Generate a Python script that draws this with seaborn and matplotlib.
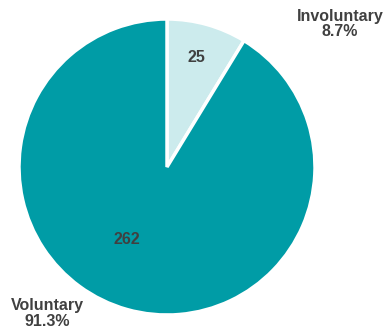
import matplotlib
matplotlib.use("Agg")
import matplotlib.pyplot as plt
import seaborn as sns

# data
categories = ["Involuntary", "Voluntary"]
counts = [25, 262]
pcts = ["8.7%", "91.3%"]
colors = ["#CCEBED", "#009CA6"]

sns.set_theme(style="white")
plt.rcParams['font.family'] = ['Liberation Sans', 'DejaVu Sans']
txt = "#404040"

fig = plt.figure(figsize=(3.87, 3.33), dpi=100)
ax = fig.add_axes([0, 0, 1, 1])
ax.pie(counts, colors=colors, startangle=90, counterclock=False, radius=1,
       wedgeprops=dict(edgecolor="white", linewidth=2.5))
ax.set_aspect("auto")
ax.set_xlim(-167 / 148, 220 / 148)
ax.set_ylim(-166 / 148, 167 / 148)
ax.axis("off")

# value labels inside slices
ax.text(0.20, 0.74, str(counts[0]), ha="center", va="center",
        fontsize=11.5, fontweight="bold", color=txt)
ax.text(-0.27, -0.49, str(counts[1]), ha="center", va="center",
        fontsize=11.5, fontweight="bold", color=txt)

# category labels outside
ax.text(1.17, 0.965, f"{categories[0]}\n{pcts[0]}", ha="center", va="center",
        fontsize=11.5, fontweight="bold", color=txt, linespacing=1.05)
ax.text(-0.81, -0.99, f"{categories[1]}\n{pcts[1]}", ha="center", va="center",
        fontsize=11.5, fontweight="bold", color=txt, linespacing=1.05)

fig.savefig("out.png", dpi=100)
